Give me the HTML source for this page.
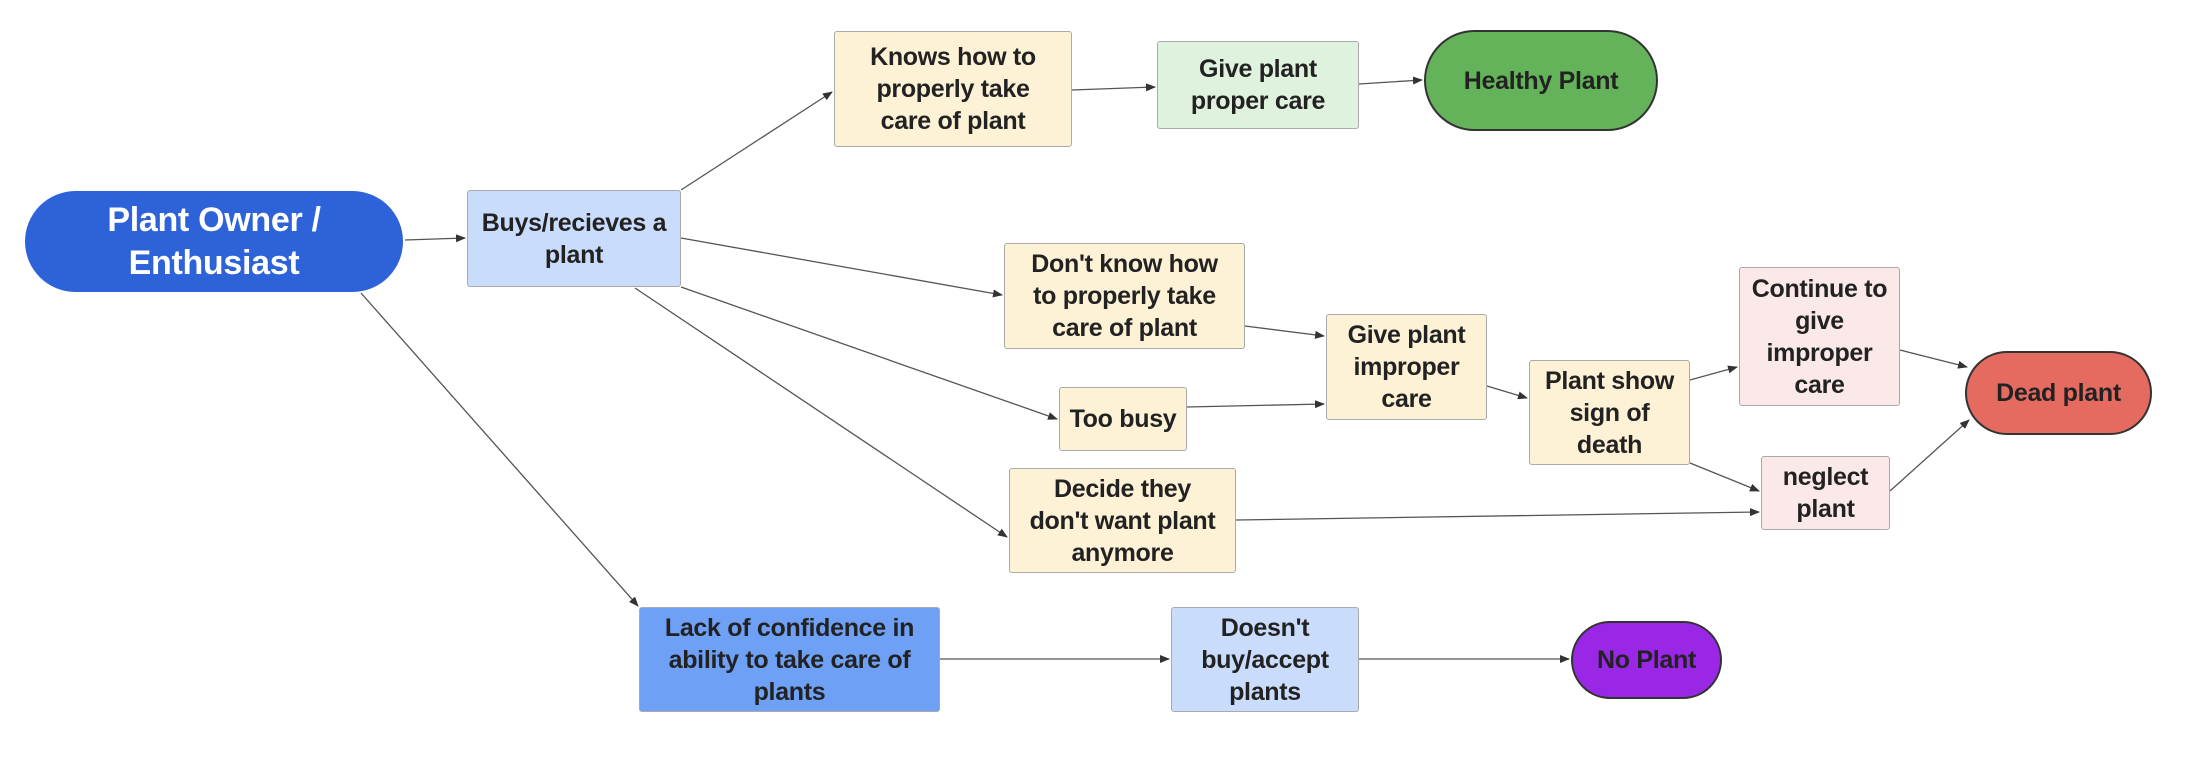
<!DOCTYPE html>
<html><head><meta charset="utf-8"><style>
html,body{margin:0;padding:0;background:#fff;}
body{width:2194px;height:772px;position:relative;overflow:hidden;font-family:"Liberation Sans",sans-serif;}
.n{position:absolute;box-sizing:border-box;display:flex;align-items:center;justify-content:center;text-align:center;font-weight:bold;font-size:25px;line-height:32px;color:#222;border:1.5px solid #aaa;border-radius:3px;letter-spacing:-0.3px;white-space:nowrap;}
.p{border-radius:60px;border:2px solid #333;}
svg{position:absolute;left:0;top:0;}
</style></head><body>
<svg width="2194" height="772">
<defs><marker id="a" markerWidth="10" markerHeight="8" refX="9" refY="4" orient="auto" markerUnits="userSpaceOnUse"><path d="M0,0 L10,4 L0,8 z" fill="#333"/></marker></defs>
<g stroke="#555" stroke-width="1.3" fill="none" marker-end="url(#a)">
<line x1="405" y1="240" x2="465" y2="238"/>
<line x1="681" y1="190" x2="832" y2="92"/>
<line x1="1072" y1="90" x2="1155" y2="87"/>
<line x1="1359" y1="84" x2="1422" y2="80"/>
<line x1="681" y1="238" x2="1002" y2="295"/>
<line x1="681" y1="287" x2="1057" y2="419"/>
<line x1="635" y1="288" x2="1007" y2="537"/>
<line x1="361" y1="293" x2="638" y2="606"/>
<line x1="940" y1="659" x2="1169" y2="659"/>
<line x1="1359" y1="659" x2="1569" y2="659"/>
<line x1="1245" y1="326" x2="1324" y2="336"/>
<line x1="1187" y1="407" x2="1324" y2="404"/>
<line x1="1487" y1="386" x2="1527" y2="398"/>
<line x1="1690" y1="380" x2="1737" y2="367"/>
<line x1="1690" y1="463" x2="1759" y2="491"/>
<line x1="1236" y1="520" x2="1759" y2="512"/>
<line x1="1900" y1="350" x2="1967" y2="367"/>
<line x1="1890" y1="491" x2="1969" y2="420"/>
</g></svg>
<div class="n p" style="left:25px;top:191px;width:378px;height:101px;background:#2d62d9;border:none;color:#fff;font-size:34px;line-height:43px;">Plant Owner /<br>Enthusiast</div>
<div class="n" style="left:467px;top:190px;width:214px;height:97px;background:#cadcfb;">Buys/recieves a<br>plant</div>
<div class="n" style="left:834px;top:31px;width:238px;height:116px;background:#fdf1d6;">Knows how to<br>properly take<br>care of plant</div>
<div class="n" style="left:1157px;top:41px;width:202px;height:88px;background:#dff2de;">Give plant<br>proper care</div>
<div class="n p" style="left:1424px;top:30px;width:234px;height:101px;background:#64b35a;">Healthy Plant</div>
<div class="n" style="left:1004px;top:243px;width:241px;height:106px;background:#fdf1d6;">Don't know how<br>to properly take<br>care of plant</div>
<div class="n" style="left:1059px;top:387px;width:128px;height:64px;background:#fdf1d6;">Too busy</div>
<div class="n" style="left:1009px;top:468px;width:227px;height:105px;background:#fdf1d6;">Decide they<br>don't want plant<br>anymore</div>
<div class="n" style="left:1326px;top:314px;width:161px;height:106px;background:#fdf1d6;">Give plant<br>improper<br>care</div>
<div class="n" style="left:1529px;top:360px;width:161px;height:105px;background:#fdf1d6;">Plant show<br>sign of<br>death</div>
<div class="n" style="left:1739px;top:267px;width:161px;height:139px;background:#fbe9e9;">Continue to<br>give<br>improper<br>care</div>
<div class="n" style="left:1761px;top:456px;width:129px;height:74px;background:#fbe9e9;">neglect<br>plant</div>
<div class="n p" style="left:1965px;top:351px;width:187px;height:84px;background:#e56b61;">Dead plant</div>
<div class="n" style="left:639px;top:607px;width:301px;height:105px;background:#6ea0f5;">Lack of confidence in<br>ability to take care of<br>plants</div>
<div class="n" style="left:1171px;top:607px;width:188px;height:105px;background:#cadcfb;">Doesn't<br>buy/accept<br>plants</div>
<div class="n p" style="left:1571px;top:621px;width:151px;height:78px;background:#9b27e6;">No Plant</div>
</body></html>
